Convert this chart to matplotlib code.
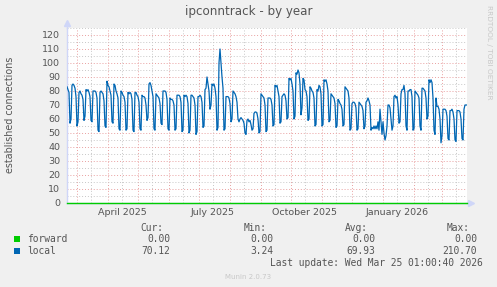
import pandas as pd
import matplotlib
matplotlib.use('Agg')
import matplotlib.pyplot as plt
import matplotlib.dates as mdates
from matplotlib.ticker import FuncFormatter

# daily values, one row per week (Wed .. Tue), starting 2025-02-19
local = [
    83, 81, 79, 57, 60, 84, 85,
    84, 82, 76, 55, 58, 79, 80,
    78, 77, 74, 59, 62, 81, 80,
    81, 79, 76, 59, 58, 80, 80,
    80, 79, 75, 52, 51, 79, 80,
    79, 78, 73, 55, 54, 87, 84,
    83, 80, 77, 58, 57, 85, 84,
    80, 78, 75, 53, 52, 80, 79,
    77, 76, 72, 52, 53, 79, 78,
    79, 78, 74, 52, 51, 79, 79,
    77, 76, 72, 53, 52, 77, 76,
    76, 75, 70, 59, 61, 85, 86,
    84, 80, 76, 53, 52, 78, 77,
    76, 75, 71, 57, 56, 80, 80,
    80, 79, 74, 53, 52, 75, 74,
    74, 73, 70, 52, 53, 77, 77,
    77, 76, 72, 51, 52, 77, 76,
    77, 76, 71, 50, 52, 77, 77,
    76, 75, 70, 49, 51, 76, 76,
    77, 76, 72, 54, 55, 81, 82,
    90, 85, 80, 67, 70, 85, 84,
    85, 82, 76, 52, 54, 100, 110,
    100, 90, 82, 52, 53, 76, 76,
    76, 75, 71, 58, 60, 80, 79,
    78, 76, 72, 60, 58, 60, 61,
    60, 59, 57, 50, 49, 59, 60,
    58, 59, 56, 52, 53, 64, 65,
    65, 64, 60, 50, 51, 78, 77,
    76, 75, 70, 51, 52, 75, 75,
    75, 74, 70, 55, 56, 84, 83,
    84, 80, 76, 57, 58, 76, 77,
    78, 77, 73, 60, 61, 89, 88,
    89, 85, 80, 60, 62, 93, 92,
    95, 93, 85, 63, 68, 89, 88,
    81, 80, 76, 59, 60, 83, 82,
    80, 79, 75, 55, 56, 81, 80,
    84, 83, 78, 55, 56, 88, 87,
    88, 85, 80, 58, 59, 78, 77,
    76, 75, 71, 54, 55, 74, 73,
    71, 70, 67, 55, 56, 83, 82,
    81, 80, 75, 52, 53, 71, 72,
    72, 71, 68, 52, 53, 72, 71,
    70, 69, 66, 53, 55, 72, 73,
    75, 73, 70, 52, 54, 53, 55,
    53, 55, 53, 58, 52, 67, 58,
    49, 58, 50, 45, 48, 55, 70,
    70, 68, 60, 52, 55, 76, 77,
    75, 76, 70, 57, 58, 78, 81,
    81, 84, 78, 55, 52, 80, 80,
    81, 81, 76, 52, 53, 80, 79,
    78, 77, 75, 55, 52, 82, 82,
    81, 80, 75, 60, 62, 88, 86,
    88, 86, 75, 52, 49, 75, 69,
    69, 67, 60, 43, 48, 67, 67,
    67, 66, 62, 46, 45, 66, 66,
    67, 65, 60, 45, 44, 66, 66,
    66, 65, 60, 46, 45, 67, 70,
    70, 70,
]
forward = [0.0] * len(local)

legend_names = ['forward', 'local']
legend_colors = ['#00CC00', '#0066B3']
cur = ['0.00', '70.12']
vmin = ['0.00', '3.24']
avg = ['0.00', '69.93']
vmax = ['0.00', '210.70']

dates = pd.date_range('2025-02-19', periods=len(local), freq='D')

W, H = 497, 287
def fx(px):
    return px / W
def fy(py):
    return 1 - py / H

fig = plt.figure(figsize=(W / 100, H / 100), dpi=100, facecolor='#F0F0F0')
ax = fig.add_axes([fx(67), fy(203), 400 / W, 175 / H])
ax.set_facecolor('white')

ax.plot(dates, local, color=legend_colors[1], lw=0.9, zorder=3)
ax.plot(dates, forward, color=legend_colors[0], lw=1.0, zorder=4, clip_on=False)

ax.set_xlim(dates[0], dates[-1])
ax.set_ylim(0, 125)

# grid
ax.set_yticks(range(0, 121, 10))
ax.set_yticks(range(5, 126, 10), minor=True)
ax.xaxis.set_major_locator(mdates.MonthLocator(bymonthday=1))
ax.xaxis.set_minor_locator(mdates.MonthLocator(bymonthday=15))
ax.xaxis.set_major_formatter(FuncFormatter(lambda v, p: ''))
ax.xaxis.set_minor_formatter(FuncFormatter(
    lambda v, p: mdates.num2date(v).strftime('%B %Y') if mdates.num2date(v).month in (1, 4, 7, 10) else ''))
ax.grid(which='major', color='#E9A0A0', linestyle=(0, (1, 2)), linewidth=0.7)
ax.grid(which='minor', color='#C8C8C8', linestyle=(0, (1, 2)), linewidth=0.7)
ax.set_axisbelow(True)

ax.tick_params(which='both', length=0, colors='#555555', labelsize=6.8)
ax.tick_params(axis='y', pad=5)
ax.tick_params(axis='x', pad=4)

for s in ['top', 'right']:
    ax.spines[s].set_visible(False)
for s in ['left', 'bottom']:
    ax.spines[s].set_color('#CFD6F8')
    ax.spines[s].set_linewidth(1)

# axis arrows
ax.plot([0, 0], [1, 1.025], color='#CFD6F8', lw=1, transform=ax.transAxes, clip_on=False)
ax.plot([0], [1.03], marker='^', color='#CFD6F8', ms=4, transform=ax.transAxes, clip_on=False)
ax.plot([1, 1.0075], [0, 0], color='#CFD6F8', lw=1, transform=ax.transAxes, clip_on=False)
ax.plot([1.0095], [0], marker='>', color='#CFD6F8', ms=4, transform=ax.transAxes, clip_on=False)

fig.text(0.5, fy(12), 'ipconntrack - by year', ha='center', va='center', fontsize=8.6, color='#555555')
fig.text(fx(10), fy(115), 'established connections', rotation=90, ha='center', va='center',
         fontsize=6.9, color='#555555')
fig.text(fx(489), fy(5), 'RRDTOOL / TOBI OETIKER', rotation=270, ha='center', va='top',
         fontsize=5.3, color='#C8C8C8')

# legend table
mono = 'DejaVu Sans Mono'
fs = 6.9
tc = '#555555'
fig.text(fx(163), fy(228), 'Cur:', ha='right', va='center', family=mono, fontsize=fs, color=tc)
fig.text(fx(267), fy(228), 'Min:', ha='right', va='center', family=mono, fontsize=fs, color=tc)
fig.text(fx(368), fy(228), 'Avg:', ha='right', va='center', family=mono, fontsize=fs, color=tc)
fig.text(fx(470), fy(228), 'Max:', ha='right', va='center', family=mono, fontsize=fs, color=tc)
for i, name in enumerate(legend_names):
    yy = fy(239 + i * 12)
    fig.patches.append(plt.Rectangle((fx(14), yy - 3 / H), 6 / W, 6 / H, transform=fig.transFigure,
                                     facecolor=legend_colors[i], edgecolor='none'))
    fig.text(fx(27), yy, name, ha='left', va='center', family=mono, fontsize=fs, color=tc)
    fig.text(fx(170), yy, cur[i], ha='right', va='center', family=mono, fontsize=fs, color=tc)
    fig.text(fx(273), yy, vmin[i], ha='right', va='center', family=mono, fontsize=fs, color=tc)
    fig.text(fx(375), yy, avg[i], ha='right', va='center', family=mono, fontsize=fs, color=tc)
    fig.text(fx(477), yy, vmax[i], ha='right', va='center', family=mono, fontsize=fs, color=tc)
fig.text(fx(483), fy(263), 'Last update: Wed Mar 25 01:00:40 2026', ha='right', va='center',
         family=mono, fontsize=fs, color=tc)
fig.text(fx(248), fy(277), 'Munin 2.0.73', ha='center', va='center', fontsize=5, color='#C8C8C8')

fig.savefig('out.png', dpi=100, facecolor=fig.get_facecolor())
